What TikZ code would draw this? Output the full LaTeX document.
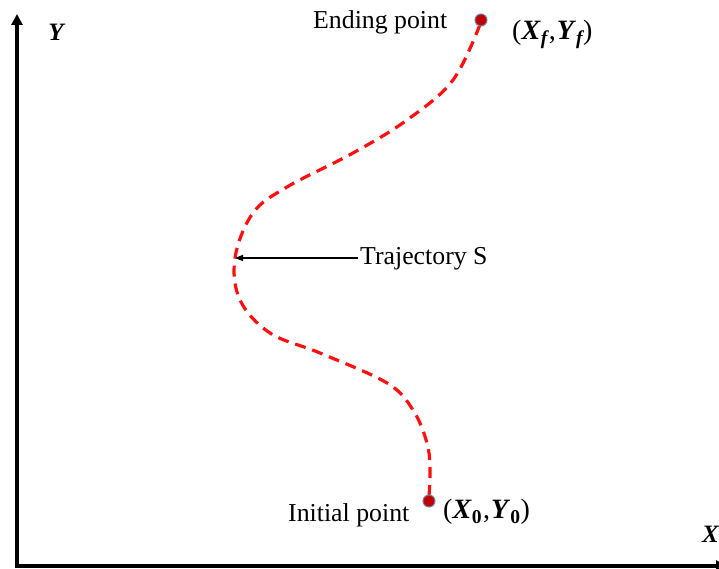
\documentclass[tikz,border=0pt]{standalone}
\usepackage{fontspec}
\setmainfont{Liberation Serif}
\usetikzlibrary{arrows.meta}
\definecolor{dotred}{HTML}{C00000}
\definecolor{dotedge}{HTML}{6F7FA8}
\definecolor{trajred}{HTML}{FF1010}
\tikzset{
  axis/.style={line width=3.4pt,-{Triangle[length=11pt,width=11pt]}},
  traj/.style={trajred,line width=3.2pt,dash pattern=on 11pt off 7pt},
  pt/.style={circle,fill=dotred,draw=dotedge,line width=1pt,minimum size=12pt,inner sep=0pt},
  lbl/.style={font=\fontsize{25.8}{28}\selectfont,inner sep=0pt},
  colbl/.style={font=\fontsize{28}{30}\selectfont,inner sep=0pt},
  bilbl/.style={font=\fontsize{25}{28}\selectfont\bfseries\itshape,inner sep=0pt}
}
\newcommand{\bisub}[1]{\textsubscript{\bfseries\itshape #1}}
\newcommand{\bosub}[1]{\textsubscript{\bfseries #1}}
\begin{document}
\begin{tikzpicture}[x=1pt,y=-1pt]
\useasboundingbox (0,0) rectangle (719,569);
\coordinate (ytip) at (17,14);
\coordinate (xtip) at (727,566);
\draw[axis] (17,567.7) -- (ytip);
\draw[axis] (15.3,566) -- (xtip);
\node[bilbl] (ylab) at (56,32) {Y};
\node[bilbl,anchor=west] (xlab) at (702,534) {X};
\draw[traj] plot[smooth,tension=0.6] coordinates {(429,496) (430,470) (427,443) (413,410) (387,383) (320,353) (270,333) (240,300) (235,258) (253,213) (287,187) (353,153) (407,120) (453,80) (481,22)};
\node[pt] (endp) at (481,20) {};
\node[pt] (initp) at (429,501) {};
\node[lbl,anchor=west] (endlab) at (313,22) {Ending point};
\node[colbl,anchor=west] (endco) at (512,34) {(\textbf{\textit{X}}\bisub{f}\kern1pt,\kern1pt\textbf{\textit{Y}}\bisub{f})};
\node[lbl,anchor=west] (initlab) at (288,515) {Initial point};
\node[colbl,anchor=west] (initco) at (443,512) {(\textbf{\textit{X}}\bosub{0}\kern1pt,\kern1pt\textbf{\textit{Y}}\bosub{0})};
\coordinate (left) at (235,258);
\node[lbl,anchor=west] (trajlab) at (360,259) {Trajectory S};
\draw[line width=1.5pt,-{Triangle[length=8pt,width=6pt]}] (358,258) -- (left);
\end{tikzpicture}
\end{document}
